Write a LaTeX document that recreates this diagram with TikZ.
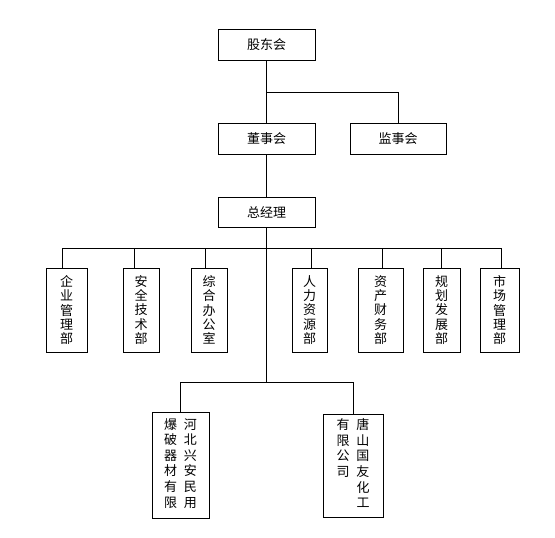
\documentclass[tikz,border=0pt]{standalone}
\usepackage{fontspec}
\newfontfamily\cjk{Noto Sans CJK SC}
\begin{document}
\begin{tikzpicture}[x=1pt,y=-1pt,
  box/.style={draw,line width=0.8pt,inner sep=0pt,font=\cjk\fontsize{13}{14.4}\selectfont,align=center},
  hbox/.style={box,minimum width=97pt,minimum height=31pt},
  vbox/.style={box,minimum height=84pt},
  cbox/.style={box,font=\cjk\fontsize{13}{15.6}\selectfont},
  conn/.style={line width=0.8pt}]
\useasboundingbox (0,0) rectangle (555,538);
\node[hbox] (gd) at (266.5,45) {股东会};
\node[hbox] (ds) at (266.5,138.5) {董事会};
\node[hbox,minimum width=96pt] (js) at (398,138.5) {监事会};
\node[hbox,minimum height=30pt] (zjl) at (266.5,212) {总经理};
\node[vbox,minimum width=41pt] (d1) at (66.5,310) {企\\业\\管\\理\\部};
\node[vbox,minimum width=36pt] (d2) at (141,310) {安\\全\\技\\术\\部};
\node[vbox,minimum width=36pt] (d3) at (209,310) {综\\合\\办\\公\\室};
\node[vbox,minimum width=35pt] (d4) at (309.5,310) {人\\力\\资\\源\\部};
\node[vbox,minimum width=45pt] (d5) at (380.5,310) {资\\产\\财\\务\\部};
\node[vbox,minimum width=37pt] (d6) at (441.5,310) {规\\划\\发\\展\\部};
\node[vbox,minimum width=39pt] (d7) at (499.5,310) {市\\场\\管\\理\\部};
\node[cbox,minimum width=57pt,minimum height=106pt] (c1) at (180.5,465)
  {\begin{tabular}{@{}c@{\hspace{7pt}}c@{}}爆&河\\破&北\\器&兴\\材&安\\有&民\\限&用\end{tabular}};
\node[cbox,minimum width=60pt,minimum height=103pt] (c2) at (353,465.5)
  {\begin{tabular}{@{}c@{\hspace{7pt}}c@{}}有&唐\\限&山\\公&国\\司&友\\&化\\&工\end{tabular}};
% top connectors
\coordinate (t1) at (266.5,92);
\draw[conn] (gd.south) -- (ds.north);
\draw[conn] (t1) -| (js.north);
\draw[conn] (ds.south) -- (zjl.north);
% department bus
\coordinate (b1) at (62,248);
\coordinate (b2) at (134,248);
\coordinate (b3) at (205,248);
\coordinate (b4) at (311,248);
\coordinate (b5) at (382,248);
\coordinate (b6) at (441,248);
\coordinate (b7) at (501,248);
\coordinate (low) at (266.5,382);
\draw[conn] (zjl.south) -- (low);
\draw[conn] (b1) -- (b7);
\foreach \i in {1,...,7} {\draw[conn] (b\i) -- (b\i |- d\i.north);}
\draw[conn] (c1.north |- low) -- (c2.north |- low);
\draw[conn] (c1.north |- low) -- (c1.north);
\draw[conn] (c2.north |- low) -- (c2.north);
\end{tikzpicture}
\end{document}
